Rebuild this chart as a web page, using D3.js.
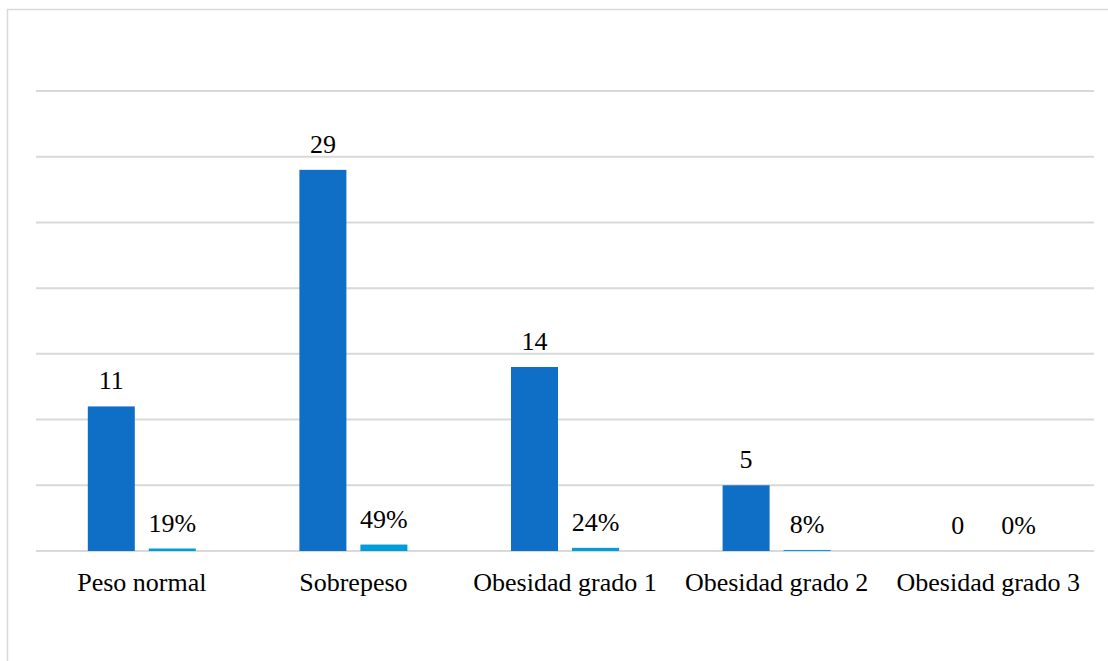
<!DOCTYPE html>
<html>
<head>
<meta charset="utf-8">
<script src="https://cdn.jsdelivr.net/npm/d3@7"></script>
<style>
  html, body { margin: 0; padding: 0; background: #ffffff; }
  svg { display: block; }
</style>
</head>
<body>
<svg id="chart" width="1108" height="661"></svg>
<script>
// Categories and the two series: counts, and the share of each category (as fraction)
const categories = ["Peso normal", "Sobrepeso", "Obesidad grado 1", "Obesidad grado 2", "Obesidad grado 3"];
const counts = [11, 29, 14, 5, 0];
const shares = [0.19, 0.49, 0.24, 0.08, 0];
const shareLabels = ["19%", "49%", "24%", "8%", "0%"];
const gridTicks = [0, 5, 10, 15, 20, 25, 30, 35];

const FONT = "'Liberation Serif', 'Times New Roman', serif";
const svg = d3.select("#chart");
const W = 1108, H = 661;
const plot = { left: 36, right: 1094, top: 91, bottom: 551 };

// Outer chart frame
svg.append("rect")
  .attr("x", 7.5).attr("y", 9.5)
  .attr("width", W + 10).attr("height", H + 10)
  .attr("fill", "#fff").attr("stroke", "#d9d9d9").attr("stroke-width", 1.5);

const x = d3.scaleBand().domain(categories).range([plot.left, plot.right]).paddingInner(0).paddingOuter(0);
const y = d3.scaleLinear().domain([0, 35]).range([plot.bottom, plot.top]);

// Horizontal gridlines
svg.append("g").selectAll("line").data(gridTicks).join("line")
  .attr("x1", plot.left).attr("x2", plot.right)
  .attr("y1", d => y(d)).attr("y2", d => y(d))
  .attr("stroke", "#d9d9d9").attr("stroke-width", 2);

const barW = 47, gap = 14;
const cx = c => x(c) + x.bandwidth() / 2;
const darkX = c => cx(c) - gap / 2 - barW;
const lightX = c => cx(c) + gap / 2;

const series = [
  { values: counts, labels: counts.map(String), color: "#0F6FC6", xpos: darkX },
  { values: shares, labels: shareLabels, color: "#009DD9", xpos: lightX }
];

series.forEach(s => {
  const g = svg.append("g");
  g.selectAll("rect").data(categories).join("rect")
    .attr("x", c => s.xpos(c))
    .attr("y", (c, i) => y(s.values[i]))
    .attr("width", barW)
    .attr("height", (c, i) => y(0) - y(s.values[i]))
    .attr("fill", s.color);
  g.selectAll("text").data(categories).join("text")
    .attr("x", c => s.xpos(c) + barW / 2)
    .attr("y", (c, i) => y(s.values[i]) - 17)
    .attr("text-anchor", "middle")
    .style("font-family", FONT)
    .style("font-size", "26px")
    .style("fill", "#000")
    .text((c, i) => s.labels[i]);
});

// Category axis labels
const xAxis = d3.axisBottom(x).tickSize(0).tickPadding(0);
const axisG = svg.append("g").attr("transform", `translate(0,${plot.bottom})`).call(xAxis);
axisG.select(".domain").remove();
axisG.selectAll("text")
  .attr("y", 40).attr("dy", 0)
  .style("font-family", FONT)
  .style("font-size", "26px")
  .style("fill", "#000");
</script>
</body>
</html>
